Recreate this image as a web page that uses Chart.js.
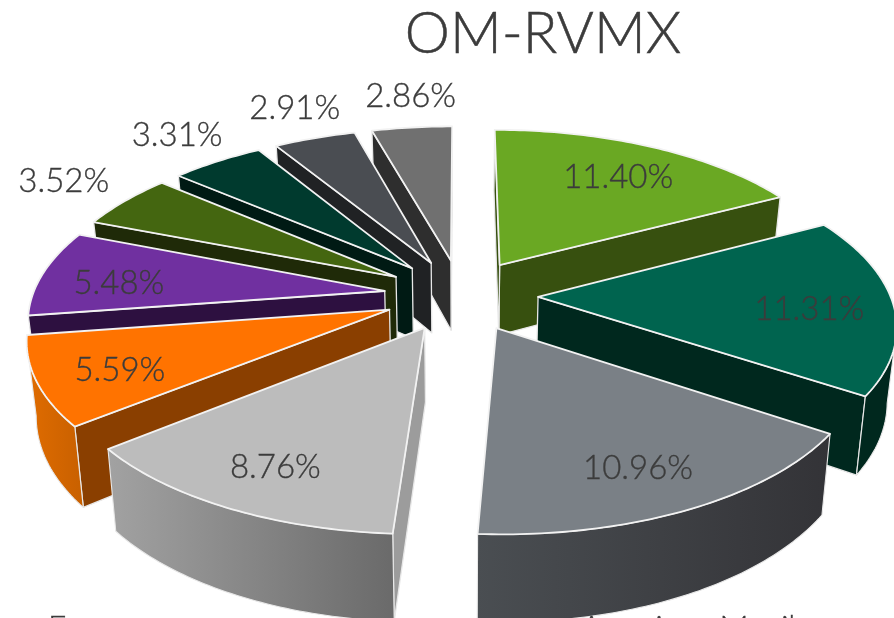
<!DOCTYPE html>
<html><head><meta charset="utf-8">
<style>html,body{margin:0;padding:0;background:#fff;overflow:hidden}#w{width:894px;height:618px;position:relative}canvas{filter:blur(.4px)}</style>
<script src="https://cdn.jsdelivr.net/npm/chart.js@4"></script>
</head><body><div id="w"><canvas id="c" width="894" height="618"></canvas></div>
<script>
const chartTitle = 'OM-RVMX';
const categories = ['Slice 1','Slice 2','Slice 3','Slice 4','Slice 5','Slice 6','Slice 7','Slice 8','Slice 9','Slice 10'];
const shares = [11.40,11.31,10.96,8.76,5.59,5.48,3.52,3.31,2.91,2.86];
const topColors = ['#6aa823','#00644f','#7a8086','#bcbcbc','#ff7300','#7030a0','#446610','#003a2e','#4a4d52','#707070'];
const sideColors = ['#37500f','#00281e','#37383c','#9c9c9c','#8a3f00','#2d1040','#1f2a08','#001a14','#202224','#2e2e2e'];
const wallFrom = ['#37500f','#00281e','#4a4e52','#a2a2a2','#e06c00','#2d1040','#1f2a08','#001a14','#202224','#2e2e2e'];
const wallTo = ['#37500f','#00281e','#333337','#6a6a6a','#c86000','#2d1040','#1f2a08','#001a14','#202224','#2e2e2e'];
const legendBits = [['E',48],['American Manila',581]];

const A=352,B=164,P=.151,H=72,K=.978;
function proj(c,u,v){const s=1/(1-P*v);return {x:c.x+A*u*s,y:c.y+B*v*s,s};}
function low(c,p){return {x:c.x+(p.x-c.x)*K,y:p.y+H*p.s};}
function poly(ctx,pts){ctx.beginPath();pts.forEach((p,i)=>i?ctx.lineTo(p.x,p.y):ctx.moveTo(p.x,p.y));ctx.closePath();}

const pie3d={id:'pie3d',
 beforeDatasetsDraw(chart){
  const ctx=chart.ctx, meta=chart.getDatasetMeta(0);
  const items=meta.data.map((arc,i)=>{
    const R=arc.outerRadius, off=arc.options.offset/R;
    const a0=arc.startAngle+Math.PI/2,a1=arc.endAngle+Math.PI/2,m=(a0+a1)/2;
    return {i,arc,R,off,a0,a1,m,depth:-Math.cos(m)};
  }).sort((p,q)=>p.depth-q.depth);
  items.forEach(it=>{
    const {i,arc,off,a0,a1,m}=it, c={x:arc.x,y:arc.y};
    const ou=Math.sin(m)*off, ov=-Math.cos(m)*off;
    const pt=(r,t)=>proj(c,ou+r*Math.sin(t),ov-r*Math.cos(t));
    const n=Math.max(12,Math.round((a1-a0)*60)), rim=[];
    for(let k=0;k<=n;k++)rim.push(pt(1,a0+(a1-a0)*k/n));
    const tip=pt(0,m), top=[tip,...rim];
    ctx.save();ctx.lineJoin='round';
    const edge=(p,q,fill)=>{ if(q.x-p.x>=0)return;
      const f=[p,q,low(c,q),low(c,p)];poly(ctx,f);ctx.fillStyle=fill;ctx.fill();
      ctx.strokeStyle='#e8e8e8';ctx.lineWidth=1.3;ctx.stroke();};
    edge(rim[n],tip,sideColors[i]);
    edge(tip,rim[0],sideColors[i]);
    const vis=[];for(let k=0;k<n;k++)if(rim[k+1].x<rim[k].x)vis.push(k);
    if(vis.length){
      const first=vis[0],last=vis[vis.length-1]+1;
      const upper=rim.slice(first,last+1), lower=upper.map(p=>low(c,p)).reverse(), f=[...upper,...lower];
      const xs=f.map(p=>p.x),g=ctx.createLinearGradient(Math.min(...xs),0,Math.max(...xs),0);
      g.addColorStop(0,wallFrom[i]);g.addColorStop(1,wallTo[i]);
      poly(ctx,f);ctx.fillStyle=g;ctx.fill();ctx.strokeStyle='#e8e8e8';ctx.lineWidth=1.1;ctx.stroke();
    }
    poly(ctx,top);ctx.fillStyle=topColors[i];ctx.fill();
    ctx.strokeStyle='#f2f2f2';ctx.lineWidth=1.8;ctx.stroke();
    ctx.restore();
  });
  return false;
 },
 afterDraw(chart){
  const ctx=chart.ctx, meta=chart.getDatasetMeta(0);
  const put=(t,x,y,w)=>{ctx.fillText(t,x,y);ctx.lineWidth=w;ctx.strokeText(t,x,y);};
  ctx.save();ctx.fillStyle='#3c3c3c';ctx.strokeStyle='#3c3c3c';ctx.textAlign='center';ctx.textBaseline='middle';
  ctx.font='300 33px Lato, sans-serif';
  meta.data.forEach((arc,i)=>{
    const off=arc.options.offset/arc.outerRadius, c={x:arc.x,y:arc.y};
    const outside=shares[i]<5;
    const m=(arc.startAngle+arc.endAngle)/2+Math.PI/2, r=outside?1.28:.77;
    const p=proj(c,(off+r)*Math.sin(m),-(off+r)*Math.cos(m));
    put(shares[i].toFixed(2)+'%',p.x+(outside?8:-2),p.y+(outside?0:6),.35);
  });
  ctx.textBaseline='alphabetic';ctx.textAlign='center';ctx.font='300 57px Lato, sans-serif';
  put(chartTitle,543,53,.5);
  ctx.textAlign='left';ctx.font='300 32px Lato, sans-serif';
  legendBits.forEach(b=>put(b[0],b[1],638,.35));
  ctx.restore();
 }};

new Chart(document.getElementById('c'),{
 type:'pie',
 data:{labels:categories,datasets:[{data:shares,backgroundColor:topColors,offset:58}]},
 options:{responsive:false,animation:false,rotation:0,
  layout:{padding:{left:28,top:0,bottom:28,right:0}},
  plugins:{legend:{display:false},title:{display:false},tooltip:{enabled:false}}},
 plugins:[pie3d]
});
</script></body></html>
